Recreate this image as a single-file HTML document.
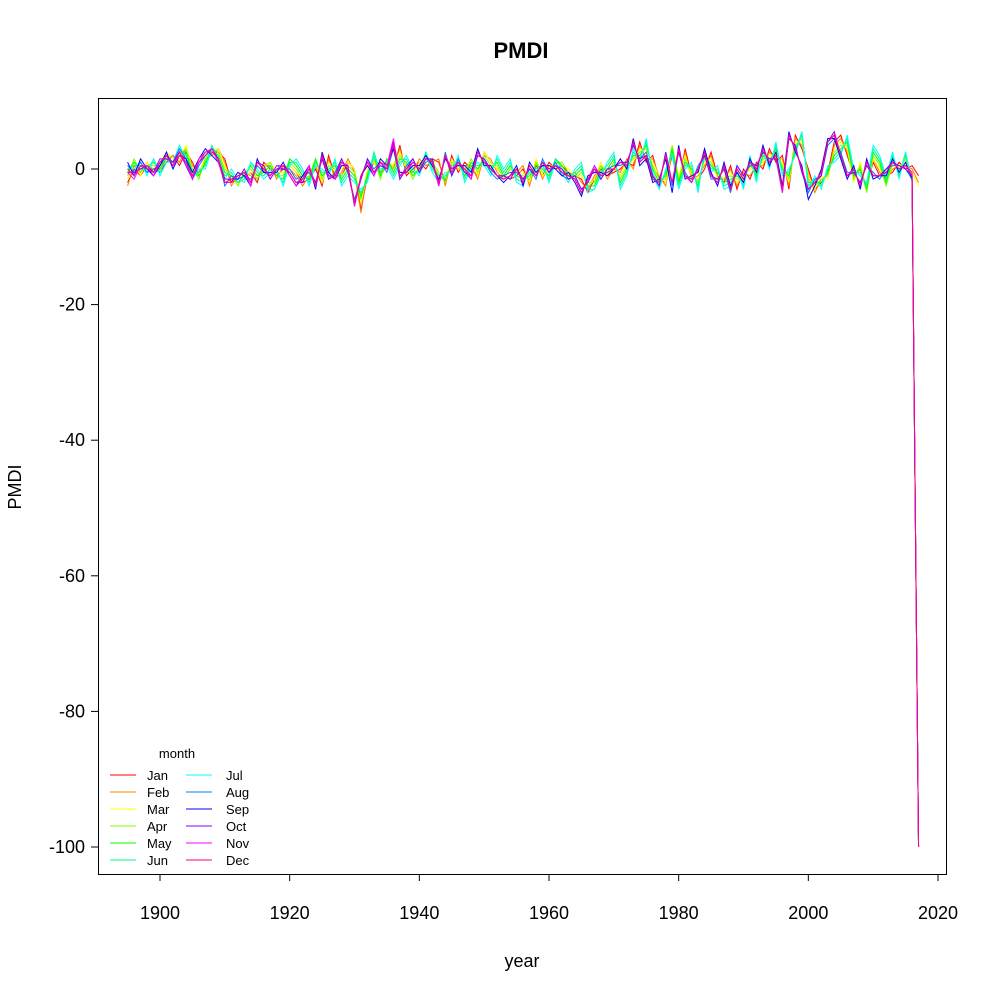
<!DOCTYPE html>
<html><head><meta charset="utf-8"><title>PMDI</title>
<style>html,body{margin:0;padding:0;background:#fff}svg{display:block}text{font-family:"Liberation Sans",Arial,sans-serif}</style>
</head><body>
<svg id="chart" width="998" height="998" viewBox="0 0 998 998" xmlns="http://www.w3.org/2000/svg">
<rect x="0" y="0" width="998" height="998" fill="#fff"/>
<text x="521" y="58" font-size="22" font-weight="bold" text-anchor="middle">PMDI</text>
<text x="522" y="967" font-size="18" text-anchor="middle">year</text>
<text x="21" y="487" font-size="18" text-anchor="middle" transform="rotate(-90 21 487)">PMDI</text>
<g id="series"></g>
<rect x="98.5" y="98.5" width="848" height="776" fill="none" stroke="#000" stroke-width="1"/>
<g id="axes"></g>
<g id="legend"></g>
</svg>
<script>
const startYear = 1895;
const months = ["Jan","Feb","Mar","Apr","May","Jun","Jul","Aug","Sep","Oct","Nov","Dec"];
const colors = ["#FF0000","#FF8000","#FFFF00","#80FF00","#00FF00","#00FF80","#00FFFF","#0080FF","#0000FF","#8000FF","#FF00FF","#FF0080"];
const xTicks = [1900,1920,1940,1960,1980,2000,2020];
const yTicks = [0,-20,-40,-60,-80,-100];
const final2017 = [-1,-2,-2.5,-99.99,-99.99,-99.99,-99.99,-99.99,-99.99,-99.99,-99.99,-99.99];
const jan = "-2 0 -1 .5 0 -.5 1 2 .5 2.5 1 -1 1 2.5 2.5 1.5 -2 -1.5 -1 -.5 -2 1 0 -1 0 .5 -.5 -2 -1.5 0 -2.5 2 -1 -1 1 0 -6 -1 1 -.5 1 0 3.5 -1 0 1 0 1.5 1 -2 2 -.5 1 0 -1 2.5 1 0 -1 -1.5 -1 0 -2 .5 -1 1 0 .5 -.5 -1 -1.5 -3.5 -1.5 0 -1 -.5 0 1 .5 4 1 2 -1.5 -2 2 -2 3 -1 -1.5 0 2.5 -1 -2 .5 -3 0 -1.5 1 0 3 1 2 -3 5 3 0 -3 -2 -.5 4 5 2 -1 0 -2.5 1 -1 -1 -.5 1 0 .5";
const feb = "-2.5 .5 -.5 1 -.5 0 1.5 2 1 3 .5 -.5 1.5 2 3 1 -2.5 -1 -.5 -1 -1.5 .5 .5 -1.5 .5 0 -1 -2.5 -1 .5 -2 1.5 -1.5 -.5 1.5 -.5 -6.5 -.5 1.5 -1 .5 .5 3 -.5 -.5 1.5 .5 1 1.5 -2.5 1.5 0 .5 .5 -1.5 2 1.5 -.5 -1.5 -1 -.5 .5 -2.5 1 -1.5 .5 .5 0 -1 -.5 -2 -3 -1 .5 -1.5 0 -.5 1.5 0 3.5 1.5 1.5 -1 -2.5 2.5 -1.5 2.5 -1.5 -1 .5 2 -1.5 -1.5 0 -2.5 -.5 -1 .5 .5 2.5 1.5 1.5 -2.5 4.5 3.5 -.5 -3.5 -1.5 -1 3.5 4.5 2.5 -1.5 .5 -3 1.5 -.5 -1.5 0 .5 .5 0";
const mar = "-1.5 1 -1 1 0 1 2.5 1.5 1.5 3.5 0 -1 2 2.5 3 .5 -1.5 -2 -1 -.5 -1 .5 1 -.5 -.5 .5 -.5 -1.5 -.5 1 -2 1 -.5 0 1 0 -5 0 1 -1 1 .5 2.5 0 -1 1 1 1.5 -1 -1.5 1.5 0 0 1 -1 2.5 1 0 -1 -.5 0 -.5 -2 1.5 -1 0 1 .5 0 -1 -1 -2.5 -1.5 1 -1 .5 -1 1 1 3 2.5 1 -1 -2 3 -1 2 -1 -1.5 1 1.5 -1.5 -1 -.5 -2 -1 0 0 1 2 2 1 -2 4 4 -1 -3 -1 -1.5 3 4 3 -2 1 -3 1.5 0 -2 .5 .5 1 -.5";
const apr = "-1 1.5 -.5 .5 .5 .5 2 1 2 3 0 -1.5 1.5 3 2.5 0 -1 -2.5 -.5 0 -1.5 0 1 -1 -1 1 0 -1.5 -1 1.5 -1.5 .5 0 -1 .5 -.5 -4.5 -.5 1.5 -1.5 1.5 0 2 .5 -1.5 .5 1.5 1 -.5 -2 1 .5 -.5 1.5 -.5 2 .5 .5 -1.5 0 -.5 -1 -1.5 1 -.5 -.5 1 1 -.5 -1.5 -.5 -2 -2 .5 -.5 1 -1.5 .5 1.5 2.5 3 .5 -1.5 -1.5 3.5 -1.5 1.5 -.5 -2 1.5 1 -1 -1.5 -1 -1.5 -1.5 .5 -.5 1.5 1.5 2.5 .5 -1.5 3.5 4.5 -1.5 -2.5 -1.5 -1 2.5 3.5 3.5 -1.5 .5 -3.5 2 .5 -2.5 1 0 1.5 -1";
const may = "-.5 1 0 0 1 0 2 .5 2.5 2.5 -.5 -1 1 3 2 -.5 -1 -2 -1 .5 -1 -.5 .5 -1 -1.5 1.5 .5 -1 -1.5 1.5 -1 0 .5 -1.5 0 -1 -4 -1 2 -1 1.5 -.5 1.5 1 -1 0 2 .5 -1 -1.5 .5 1 -1 1 0 1.5 0 1 -1 .5 -1 -1.5 -1 .5 0 -1 1.5 .5 -1 -1 0 -2.5 -2.5 0 0 1.5 -2 0 2 2 3.5 0 -2 -1 3 -2 1 0 -2.5 2 .5 -.5 -2 -1.5 -1 -2 1 -1 2 1 3 0 -1 3 5 -2 -2 -2 -.5 2 3 4 -1 0 -3 2.5 1 -2 1.5 -.5 2 -1.5";
const jun = "0 .5 .5 -.5 1.5 -.5 1.5 .5 3 2 -1 -.5 .5 3.5 1.5 -1 -.5 -2 -1.5 1 -.5 -1 0 -.5 -2 1 1 -.5 -2 1 -.5 -.5 1 -2 -.5 -1.5 -3.5 -1.5 2.5 -.5 1 -1 1 1.5 -.5 -.5 2.5 0 -1.5 -1 0 1.5 -1.5 .5 .5 1 -.5 1.5 -.5 1 -1.5 -2 -.5 0 .5 -1.5 1.5 0 -1.5 -.5 .5 -3 -3 -.5 .5 2 -2.5 -.5 2.5 1.5 4 -.5 -2.5 -.5 2.5 -2.5 .5 .5 -3 2.5 0 0 -2.5 -2 -.5 -2.5 1.5 -1.5 2.5 .5 3.5 -.5 -.5 2.5 5.5 -2.5 -1.5 -2.5 0 1.5 2.5 4.5 -.5 -.5 -2.5 3 1.5 -1.5 2 -1 2.5 -2";
const jul = ".5 0 1 -1 1.5 -1 1 1 3.5 1.5 -1.5 0 0 3 1 -1.5 0 -1.5 -2 1 0 -1.5 -.5 0 -2.5 .5 1.5 0 -2.5 .5 0 -1 1.5 -2.5 -1 -2 -3 -2 2 0 .5 -1.5 .5 2 0 -1 2 -.5 -2 -.5 -.5 2 -2 0 1 .5 -1 2 0 1.5 -2 -2.5 0 -.5 1 -2 1 -.5 -2 0 1 -3.5 -3 -1 1 2.5 -3 -1 3 1 4.5 -1 -3 0 2 -3 0 1 -3.5 3 -.5 .5 -3 -2.5 0 -3 2 -2 3 0 4 -1 0 2 5.5 -3 -1 -3 .5 1 2 5 0 -1 -2 3.5 2 -1 2.5 -1.5 2.5 -2";
const aug = ".5 -.5 1 -.5 0 .5 2 1 3 1.5 -1.5 .5 2 3 1.5 -2.5 -1 -1.5 -1 -1.5 .5 -.5 -1 .5 0 0 -1.5 -1 -.5 -2 1.5 -1.5 -.5 1.5 -.5 -4.5 -1.5 1.5 0 1 -.5 3 -1.5 .5 1.5 -.5 1 1.5 -2.5 2.5 -1 1.5 -.5 -1.5 2 1.5 -.5 -1.5 -1 -.5 -.5 -1.5 0 -1.5 1.5 -.5 1 -1 -1.5 -1 -3 -2 .5 -1.5 0 .5 .5 1 3.5 1.5 2.5 -1 -2.5 2.5 -2.5 2.5 -.5 -2 .5 2 -1.5 -1.5 0 -3.5 .5 -1 .5 .5 2.5 1.5 1.5 -3.5 4.5 3.5 -.5 -3.5 -1.5 -1 3.5 4.5 2.5 -.5 -.5 -2 .5 -.5 -1.5 0 .5 .5 0 -1.5";
const sep = "1 -1 1.5 0 -1 .5 2.5 0 2 1.5 -.5 1.5 3 2 1 -2 -2 -.5 -1 -2.5 1.5 -.5 -.5 -.5 1 -1 -2.5 -1 .5 -3 2.5 -.5 -1.5 .5 .5 -5.5 -1 .5 -1 1.5 .5 3 -.5 -.5 .5 .5 2 .5 -1.5 1.5 0 .5 .5 -.5 3 .5 .5 -1 -2 -1 .5 -2.5 1 -.5 .5 .5 0 -1 -.5 -2 -4 -1 -.5 -.5 -1 0 1.5 0 4.5 .5 1.5 -2 -1.5 1.5 -3.5 3.5 -1.5 -1 -.5 3 -.5 -2.5 1 -2.5 -.5 -2 1.5 -.5 3.5 .5 2.5 -2.5 5.5 2.5 .5 -4.5 -2.5 0 4.5 4.5 1.5 -1.5 .5 -3 1.5 -1.5 -1 -1 1.5 -.5 1 -1.5";
const oct = "-.5 -.5 0 .5 -.5 1.5 1.5 1 2.5 .5 -1.5 1 2 3 1.5 -1.5 -1.5 -1.5 0 -2 1 .5 -1.5 0 0 -.5 -2 -2 0 -2 1.5 -1.5 -1 1.5 -.5 -5 -1.5 1.5 -.5 .5 0 4 -1.5 0 1.5 -.5 1.5 1.5 -2.5 2 -1 1 -.5 -1 2 1.5 0 -1 -1 -1.5 0 -1.5 0 -1 1 -.5 .5 0 -1.5 -1 -3 -2 0 -1.5 0 0 1 1 3.5 1.5 2 -1 -2.5 2.5 -2 2.5 -1 -2 0 2 -1 -1.5 0 -3 .5 -1 1 .5 2.5 1.5 1.5 -3 4.5 3.5 -.5 -3 -2 -1 4 5.5 2 -1 -.5 -2 .5 -1 -1 0 1 .5 0 -1";
const nov = "-.5 -1.5 .5 .5 -1 1 2 .5 2 1 -1.5 1.5 2.5 3 1 -2 -2 -1 -.5 -2.5 1 0 -1 .5 .5 -1 -2.5 -1.5 .5 -2.5 2 -1 -1.5 1 .5 -5.5 -1 1 -1 1 .5 4.5 -1 -.5 1 0 1.5 1 -2.5 2 0 1 0 -1.5 2.5 1 0 -1 -1.5 -1 0 -2 .5 -1 1 0 .5 -.5 -1 -1.5 -3.5 -1.5 .5 -1 -.5 0 1 .5 4 1 2 -1.5 -2 2 -2 3 -1 -2 0 2.5 -1 -2 .5 -3 0 -1.5 1 0 3 1 2 -3.5 5 3 0 -3 -2 -.5 4 5 2 -1 0 -2.5 1 -1 -1 -.5 1 0 .5 -.5";
const dec = "0 -1 .5 0 -.5 1 2 .5 2.5 1 -1 1 2.5 2.5 1.5 -2 -1.5 -1 -.5 -2 1 0 -1 0 .5 -.5 -2 -1.5 0 -2.5 2 -1 -1 1 0 -5 -1 1 -.5 1 0 3.5 -1 0 1 0 1.5 1 -2 2 -.5 1 0 -1 2.5 1 0 -1 -1.5 -1 0 -2 .5 -1 1 0 .5 -.5 -1 -1.5 -3.5 -1.5 0 -1 -.5 0 1 .5 4 1 2 -1.5 -2 2 -2 3 -1 -1.5 0 2.5 -1 -2 .5 -3 0 -1.5 1 0 3 1 2 -3 5 3 0 -3 -2 -.5 4 5 2 -1 0 -2.5 1 -1 -1 -.5 1 0 .5 -1";
const seriesStrings = [jan,feb,mar,apr,may,jun,jul,aug,sep,oct,nov,dec];

const NS = "http://www.w3.org/2000/svg";
const X0 = 98, X1 = 946, Y0 = 98, Y1 = 874;
const xScale = yr => 160 + (yr - 1900) * (778 / 120);
const yScale = v => 169 - v * 6.78;
function mk(tag, attrs, parent){const e=document.createElementNS(NS,tag);for(const k in attrs)e.setAttribute(k,attrs[k]);parent.appendChild(e);return e;}

const sg = document.getElementById("series");
seriesStrings.forEach((s, m) => {
  const vals = s.trim().split(/\s+/).map(Number).concat([final2017[m]]);
  const pts = vals.map((v, i) => xScale(startYear + i).toFixed(2) + "," + yScale(v).toFixed(2)).join(" ");
  const pl = mk("polyline", {points: pts, fill: "none", stroke: colors[m], "stroke-width": 1}, sg);
  
  
});

const ax = document.getElementById("axes");
mk("line", {x1: xScale(xTicks[0]), x2: xScale(xTicks[xTicks.length-1]), y1: Y1+0.5, y2: Y1+0.5, stroke: "#000"}, ax);
xTicks.forEach(t => {
  const x = xScale(t);
  mk("line", {x1: x, x2: x, y1: Y1, y2: Y1 + 7, stroke: "#000"}, ax);
  const tx = mk("text", {x: x, y: 919, "font-size": 18, "text-anchor": "middle"}, ax);
  tx.textContent = t;
  
  
});
yTicks.forEach(t => {
  const y = yScale(t);
  mk("line", {x1: X0 - 7, x2: X0, y1: y, y2: y, stroke: "#000"}, ax);
  const tx = mk("text", {x: 85, y: y + 6, "font-size": 18, "text-anchor": "end"}, ax);
  tx.textContent = t;
  
  
});

const lg = document.getElementById("legend");
const lt = mk("text", {x: 177, y: 758, "font-size": 13, "text-anchor": "middle"}, lg);
lt.textContent = "month";


months.forEach((mName, m) => {
  const col = Math.floor(m / 6), row = m % 6;
  const lx = col === 0 ? 110 : 186, tx0 = col === 0 ? 147 : 226;
  const y = 775 + row * 17;
  const g = mk("g", {}, lg);
  
  
  mk("line", {x1: lx, x2: lx + 26, y1: y, y2: y, stroke: colors[m], "stroke-width": 1}, g);
  const t = mk("text", {x: tx0, y: y + 5, "font-size": 13}, g);
  t.textContent = mName;
});
</script>
</body></html>
